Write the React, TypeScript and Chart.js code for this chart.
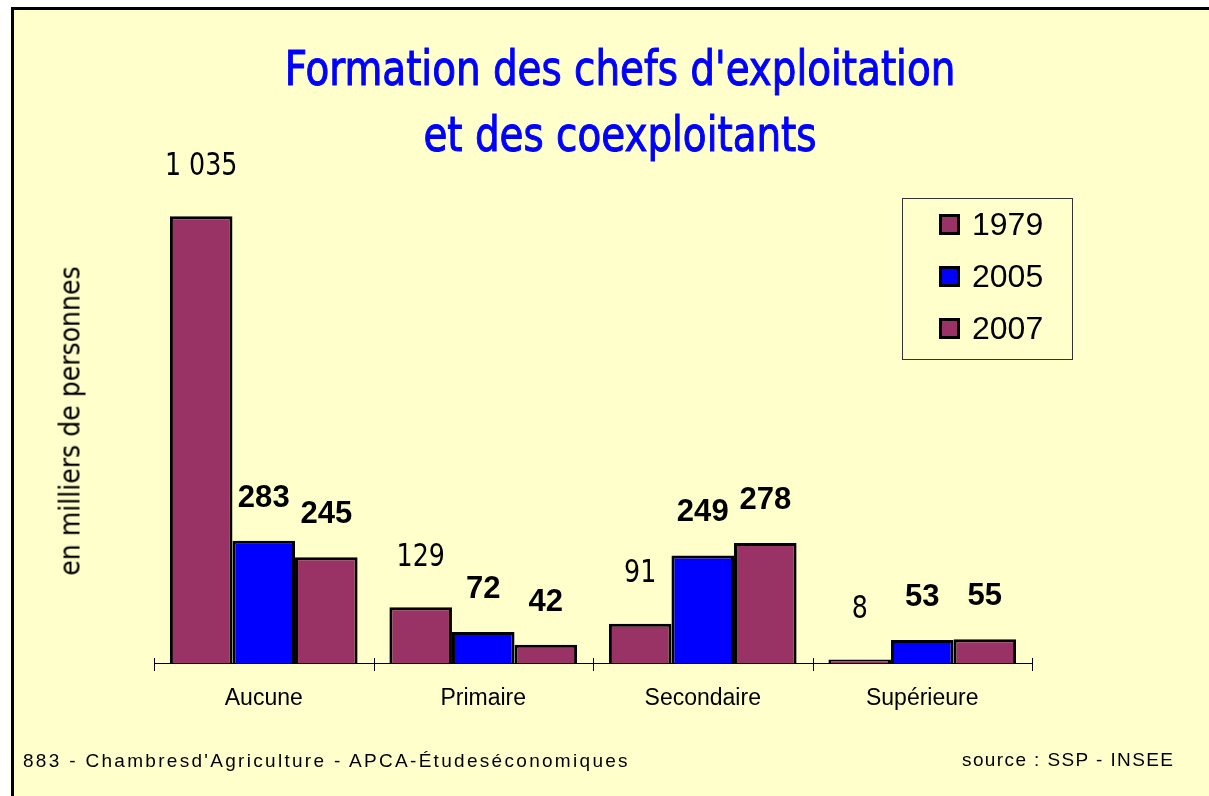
import React, { useEffect, useRef } from "react";
import { Chart, registerables } from "chart.js";

Chart.register(...registerables);

const categories = ["Aucune", "Primaire", "Secondaire", "Supérieure"];
const seriesNames = ["1979", "2005", "2007"];
const values1979 = [1035, 129, 91, 8];
const values2005 = [283, 72, 249, 53];
const values2007 = [245, 42, 278, 55];
const labels1979 = ["1 035", "129", "91", "8"];
const labels2005 = ["283", "72", "249", "53"];
const labels2007 = ["245", "42", "278", "55"];

const colors = ["#993366", "#0000FF", "#993366"];
const labelFonts = [
  "32px 'DejaVu Sans Condensed', sans-serif",
  "bold 32px 'Liberation Sans', Arial, sans-serif",
  "bold 32px 'Liberation Sans', Arial, sans-serif",
];
const labelScaleX = [0.88, 0.97, 0.97];
const labelOffsets = [50, 43, 43];

const dataLabelPlugin = {
  id: "dataLabels",
  afterDatasetsDraw(chart: any) {
    const ctx = chart.ctx;
    const texts = [labels1979, labels2005, labels2007];
    chart.data.datasets.forEach((ds: any, di: number) => {
      const meta = chart.getDatasetMeta(di);
      meta.data.forEach((bar: any, i: number) => {
        ctx.save();
        ctx.translate(bar.x, bar.y - labelOffsets[di]);
        ctx.scale(labelScaleX[di], 1);
        ctx.font = labelFonts[di];
        ctx.fillStyle = "#000";
        ctx.textAlign = "center";
        ctx.textBaseline = "middle";
        ctx.fillText(texts[di][i], 0, 0);
        ctx.restore();
      });
    });
  },
};

const axisPlugin = {
  id: "axisLine",
  afterDraw(chart: any) {
    const ctx = chart.ctx;
    const a = chart.chartArea;
    const n = categories.length;
    const w = (a.right - a.left) / n;
    ctx.save();
    ctx.strokeStyle = "#000";
    ctx.lineWidth = 1;
    ctx.beginPath();
    ctx.moveTo(a.left, a.bottom + 0.5);
    ctx.lineTo(a.right, a.bottom + 0.5);
    for (let i = 0; i <= n; i++) {
      const x = Math.round(a.left + i * w) + 0.5;
      ctx.moveTo(x, a.bottom - 5);
      ctx.lineTo(x, a.bottom + 8);
    }
    ctx.stroke();
    ctx.restore();
  },
};

export default function App() {
  const ref = useRef<HTMLCanvasElement>(null);
  useEffect(() => {
    if (!ref.current) return;
    const allValues = [values1979, values2005, values2007];
    const chart = new Chart(ref.current, {
      type: "bar",
      data: {
        labels: categories,
        datasets: seriesNames.map((name, i) => ({
          label: name,
          data: allValues[i],
          backgroundColor: colors[i],
          borderColor: "#000",
          borderWidth: 3,
          borderSkipped: "bottom",
          categoryPercentage: 0.855,
          barPercentage: 1,
        })),
      },
      options: {
        responsive: false,
        animation: false,
        layout: { padding: { left: 154, right: 177, top: 145, bottom: 0 } },
        plugins: {
          legend: { display: false },
          title: { display: false },
          tooltip: { enabled: false },
        },
        scales: {
          x: {
            grid: { display: false },
            border: { display: false },
            ticks: {
              color: "#000",
              padding: 14,
              font: { family: "'Liberation Sans', Arial, sans-serif", size: 23 },
            },
            afterFit: (s: any) => {
              s.height = 133;
            },
          },
          y: {
            display: false,
            min: 0,
            max: 1200,
          },
        },
      },
      plugins: [dataLabelPlugin, axisPlugin],
    });
    return () => chart.destroy();
  }, []);

  const narrow = "'DejaVu Sans Condensed', sans-serif";
  return (
    <div style={{ position: "fixed", left: 0, top: 0, width: 1209, height: 796, background: "#fff", overflow: "hidden" }}>
      <div
        style={{
          position: "absolute",
          left: 11,
          top: 7,
          width: 1300,
          height: 900,
          border: "3px solid #000",
          background: "#FFFFCC",
        }}
      />
      <canvas ref={ref} width={1209} height={796} style={{ position: "absolute", left: 0, top: 0 }} />
      <div
        style={{
          position: "absolute",
          left: 0,
          width: 1240,
          top: 35,
          textAlign: "center",
          color: "#0000FF",
          fontFamily: narrow,
          fontSize: 48,
          lineHeight: "66px",
          WebkitTextStroke: "1px #0000FF",
          transform: "scaleX(0.9)",
          transformOrigin: "620px 0",
        } as any}
      >
        Formation des chefs d'exploitation
        <br />
        et des coexploitants
      </div>
      <div
        style={{
          position: "absolute",
          left: 70,
          top: 421,
          transform: "translate(-50%, -50%) rotate(-90deg)",
          whiteSpace: "nowrap",
          fontFamily: narrow,
          fontSize: 28,
          color: "#000",
        }}
      >
        en milliers de personnes
      </div>
      <div
        style={{
          position: "absolute",
          left: 902,
          top: 198,
          width: 169,
          height: 160,
          border: "1px solid #333",
          fontFamily: "'Liberation Sans', Arial, sans-serif",
          fontSize: 32,
        }}
      >
        {seriesNames.map((name, i) => (
          <div key={name} style={{ position: "absolute", left: 36, top: 9 + i * 52, height: 32, display: "flex", alignItems: "center" }}>
            <span
              style={{
                display: "inline-block",
                width: 15,
                height: 15,
                border: "3px solid #000",
                background: colors[i],
                marginRight: 12,
              }}
            />
            <span style={{ lineHeight: "32px" }}>{name}</span>
          </div>
        ))}
      </div>
      <div
        style={{
          position: "absolute",
          left: 23,
          top: 750,
          fontFamily: "'Liberation Sans', Arial, sans-serif",
          fontSize: 19,
          letterSpacing: "2.3px",
          color: "#000",
          whiteSpace: "nowrap",
        }}
      >
        883 - Chambresd'Agriculture - APCA-Étudeséconomiques
      </div>
      <div
        style={{
          position: "absolute",
          left: 962,
          top: 749,
          fontFamily: "'Liberation Sans', Arial, sans-serif",
          fontSize: 19,
          letterSpacing: "1.4px",
          color: "#000",
          whiteSpace: "nowrap",
        }}
      >
        source : SSP - INSEE
      </div>
    </div>
  );
}
